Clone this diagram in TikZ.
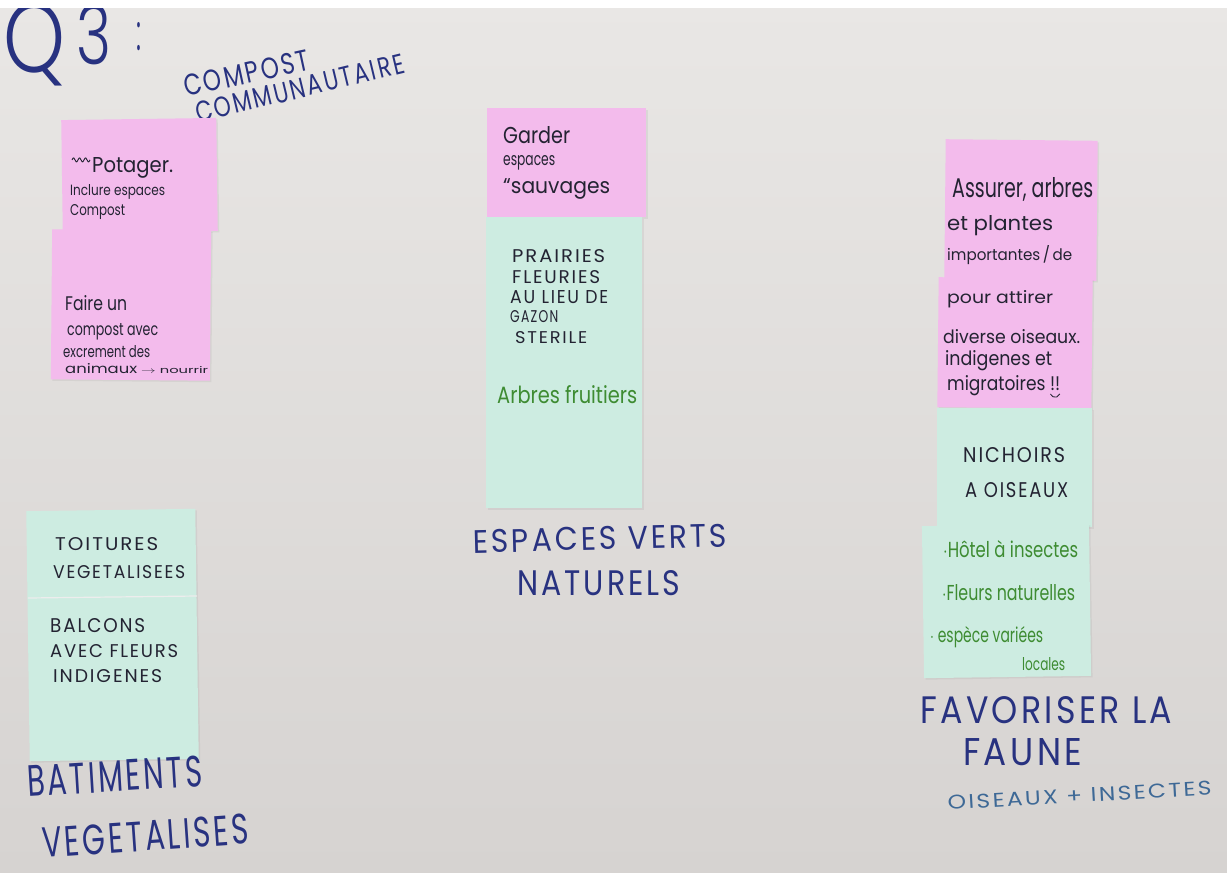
\documentclass[tikz,border=0pt]{standalone}
\usepackage{graphicx}
\usepackage{fontspec}
\setmainfont{Poppins}
\newfontfamily\capsfont[LetterSpace=10]{Poppins}
\IfFontExistsTF{Poppins Light}{\newfontfamily\thinfont{Poppins Light}}{\newfontfamily\thinfont{Poppins}}
\usetikzlibrary{shadows}
\definecolor{walltop}{RGB}{233,231,229}
\definecolor{wallbot}{RGB}{214,211,209}
\definecolor{pinkn}{RGB}{243,187,236}
\definecolor{bluen}{RGB}{205,236,225}
\definecolor{inkblue}{RGB}{40,50,128}
\definecolor{penblack}{RGB}{35,35,50}
\definecolor{pengreen}{RGB}{62,140,50}
\definecolor{lightink}{RGB}{62,105,150}
% \hw{width}{height}{text}: text stretched to the measured box
\newcommand{\hw}[3]{\resizebox{#1pt}{#2pt}{#3}}
\tikzset{
  pad/.style={draw=none, inner sep=0pt, drop shadow={opacity=0.12, shadow xshift=1.5pt, shadow yshift=-1.5pt}},
  pinkpad/.style={pad, fill=pinkn},
  bluepad/.style={pad, fill=bluen},
  ln/.style={inner sep=0pt, anchor=base west, text=penblack},
  gln/.style={ln, text=pengreen},
  iln/.style={ln, text=inkblue},
}
\begin{document}
\begin{tikzpicture}[x=1pt,y=-1pt]
\shade[top color=walltop, bottom color=wallbot] (0,0) rectangle (1227,873);
\useasboundingbox (0,0) rectangle (1227,873);

% ---- title
\node[iln] (q) at (3,72) {\hw{62}{70}{\thinfont Q}};
\node[iln] (three) at (76,64) {\hw{35}{60}{\thinfont 3}};
\node[iln] (colon) at (136,50) {\hw{5}{28}{\thinfont :}};
\fill[white] (0,0) rectangle (1227,8);
\node[iln, rotate=12.3] (compost) at (186,97) {\hw{128}{21}{\capsfont COMPOST}};
\node[iln, rotate=13.6] (commu) at (198,123) {\hw{214}{20}{\capsfont COMMUNAUTAIRE}};

% ---- left column
\node[pinkpad, minimum width=155pt, minimum height=113pt, rotate=0.8] (p1) at (139.5,175.5) {};
\node[pinkpad, minimum width=159pt, minimum height=150pt, rotate=-0.5] (p2) at (131,305) {};
\draw[penblack, line width=0.9pt] (p1.north west) ++(11,40) coordinate (s1)
  .. controls +(3,-7) and +(-3,7) .. ++(6,0) .. controls +(3,-7) and +(-3,7) .. ++(6,0)
  .. controls +(3,-7) and +(-3,7) .. ++(6,0);
\node[ln] (p1a) at (92,172) {\hw{81}{15}{Potager.}};
\node[ln] (p1b) at (70,195) {\hw{95}{11}{Inclure espaces}};
\node[ln] (p1c) at (70,215) {\hw{55}{11}{Compost}};
\node[ln] (p2a) at (65,310) {\hw{62}{15}{Faire un}};
\node[ln] (p2b) at (67,335) {\hw{91}{12}{compost avec}};
\node[ln] (p2c) at (63,357) {\hw{87}{12}{excrement des}};
\node[ln] (p2d) at (65,373) {\hw{72}{10}{animaux}};
\node[ln] (p2e) at (141,373) {\hw{67}{7}{$\rightarrow$ nourrir}};

\node[bluepad, minimum width=169pt, minimum height=250pt, rotate=0.8] (b1) at (112.5,635) {};
\draw[black!7, line width=1.2pt] (b1.west |- 0,598) -- (b1.east |- 0,596);
\node[ln] (b1a) at (55,550) {\hw{103}{13}{\capsfont TOITURES}};
\node[ln] (b1b) at (53,578) {\hw{132}{13}{\capsfont VEGETALISEES}};
\node[ln] (b1c) at (50,632) {\hw{95}{14}{\capsfont BALCONS}};
\node[ln] (b1d) at (50,657) {\hw{128}{13}{\capsfont AVEC FLEURS}};
\node[ln] (b1e) at (53,682) {\hw{109}{13}{\capsfont INDIGENES}};
\node[iln, rotate=3.5] (bat1) at (28,797) {\hw{175}{31}{\capsfont BATIMENTS}};
\node[iln, rotate=4] (bat2) at (43,858) {\hw{207}{30}{\capsfont VEGETALISES}};

% ---- middle column
\node[pinkpad, minimum width=159pt, minimum height=109pt] (m1) at (566.5,162.5) {};
\node[bluepad, minimum width=156pt, minimum height=291pt] (m2) at (564,362.5) {};
\node[ln] (m1a) at (503,143) {\hw{67}{17}{Garder}};
\node[ln] (m1b) at (503,165) {\hw{52}{10}{espaces}};
\node[ln] (m1c) at (503,193) {\hw{107}{15}{``sauvages}};
\node[ln] (m2a) at (512,262) {\hw{93}{13}{\capsfont PRAIRIES}};
\node[ln] (m2b) at (512,283) {\hw{88}{13}{\capsfont FLEURIES}};
\node[ln] (m2c) at (510,303) {\hw{98}{13}{\capsfont AU LIEU DE}};
\node[ln] (m2d) at (510,322) {\hw{48}{12}{\capsfont GAZON}};
\node[ln] (m2e) at (515,343) {\hw{72}{12}{\capsfont STERILE}};
\node[gln] (m2f) at (497,403) {\hw{140}{18}{Arbres fruitiers}};
\node[iln, rotate=1.4] (esp1) at (473,553) {\hw{254}{23}{\capsfont ESPACES VERTS}};
\node[iln] (esp2) at (517,595) {\hw{163}{25}{\capsfont NATURELS}};

% ---- right column
\node[pinkpad, minimum width=152pt, minimum height=140pt, rotate=-0.6] (r1) at (1021,210) {};
\node[pinkpad, minimum width=154pt, minimum height=130pt, rotate=-0.6] (r2) at (1015,343) {};
\node[bluepad, minimum width=155pt, minimum height=119pt] (r3) at (1014.5,467.5) {};
\node[bluepad, minimum width=167pt, minimum height=152pt, rotate=0.8] (r4) at (1006.5,601) {};
\node[ln] (r1a) at (952,197) {\hw{141}{20}{Assurer, arbres}};
\node[ln] (r1b) at (947,230) {\hw{106}{15}{et plantes}};
\node[ln] (r1c) at (947,260) {\hw{125}{15}{importantes\,/\,de}};
\node[ln] (r2a) at (947,303) {\hw{106}{13}{pour attirer}};
\node[ln] (r2b) at (943,343) {\hw{137}{14}{diverse oiseaux.}};
\node[ln] (r2c) at (945,365) {\hw{107}{15}{indigenes et}};
\node[ln] (r2d) at (947,390) {\hw{113}{15}{migratoires !!}};
\draw[penblack, line width=0.8pt] (r2d.base east) ++(-10,4) coordinate (sm)
  arc[start angle=200, end angle=340, radius=5pt];
\node[ln] (r3a) at (963,462) {\hw{102}{15}{\capsfont NICHOIRS}};
\node[ln] (r3b) at (965,497) {\hw{103}{15}{\capsfont A OISEAUX}};
\node[gln] (r4a) at (943,557) {\hw{135}{17}{$\cdot$Hôtel à insectes}};
\node[gln] (r4b) at (942,600) {\hw{133}{16}{$\cdot$Fleurs naturelles}};
\node[gln] (r4c) at (930,642) {\hw{113}{16}{$\cdot$ espèce variées}};
\node[gln] (r4d) at (1022,670) {\hw{43}{13}{locales}};
\node[iln] (fav1) at (920,723) {\hw{252}{27}{\capsfont FAVORISER LA}};
\node[iln] (fav2) at (963,765) {\hw{119}{27}{\capsfont FAUNE}};
\node[ln, text=lightink, rotate=3.3] (ois) at (948,810) {\hw{264}{14}{\capsfont OISEAUX + INSECTES}};
\end{tikzpicture}
\end{document}
